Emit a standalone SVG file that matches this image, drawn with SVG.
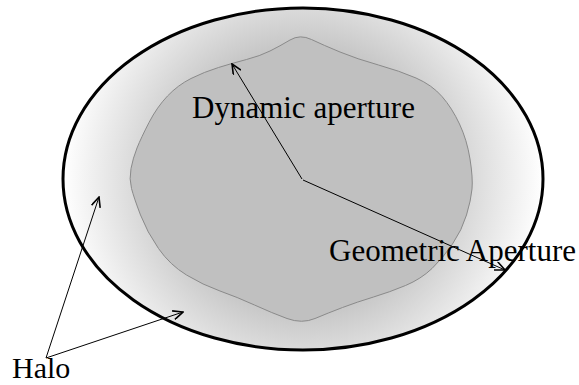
<svg xmlns="http://www.w3.org/2000/svg" width="579" height="385" viewBox="0 0 579 385">
<style>
.lbl{font-family:"Liberation Serif","Times New Roman",serif;font-size:31px;fill:#000}
.arr{stroke:#000;stroke-width:1;fill:none;marker-end:url(#ah)}
</style>
<defs>
<radialGradient id="halo" gradientUnits="userSpaceOnUse" cx="303" cy="179" r="240">
<stop offset="0.5" stop-color="#c0c0c0"/>
<stop offset="1" stop-color="#ffffff"/>
</radialGradient>
<marker id="ah" viewBox="0 0 12 10" refX="11" refY="5" markerWidth="12" markerHeight="10" markerUnits="userSpaceOnUse" orient="auto">
<path d="M1,0.5 L11,5 L1,9.5" fill="none" stroke="#000" stroke-width="1.6"/>
</marker>
</defs>
<rect width="579" height="385" fill="#fff"/>
<g id="geometric-aperture">
<ellipse cx="303" cy="179" rx="240" ry="171" fill="url(#halo)" stroke="#000" stroke-width="3"/>
</g>
<g id="dynamic-aperture">
<path d="M290,40 Q300,34 311.5,39.5 Q323,45 340,52 Q357,59 378.5,65 Q400,71 416,78 Q432,85 442,96.5 Q452,108 459.5,124 Q467,140 470,159 Q473,178 472,189 Q471,200 466.5,215 Q462,230 452.5,244 Q443,258 432,268.5 Q421,279 405.5,285.5 Q390,292 373.5,297 Q357,302 342.5,307.5 Q328,313 315,318.5 Q302,324 287,318.5 Q272,313 254.5,305 Q237,297 220,291 Q203,285 186.5,275 Q170,265 158.5,248.5 Q147,232 140.5,215 Q134,198 131.5,188.5 Q129,179 131,168.5 Q133,158 137,148 Q141,138 149,122.5 Q157,107 167.5,96 Q178,85 191,78.5 Q204,72 218.5,67.5 Q233,63 246.5,59.5 Q260,56 270,51 Q280,46 290,40 Z" fill="#c0c0c0" stroke="#8a8a8a" stroke-width="1"/>
</g>
<g id="connectors">
<line class="arr" x1="302" y1="179" x2="232" y2="64"/>
<line class="arr" x1="303" y1="180" x2="505" y2="270"/>
<line class="arr" x1="46" y1="358" x2="99" y2="197"/>
<line class="arr" x1="46" y1="358" x2="183" y2="312"/>
</g>
<g id="labels">
<text class="lbl" x="192" y="118">Dynamic aperture</text>
<text class="lbl" x="329" y="261">Geometric Aperture</text>
<text class="lbl" x="12" y="378" style="font-size:30px">Halo</text>
</g>
</svg>
